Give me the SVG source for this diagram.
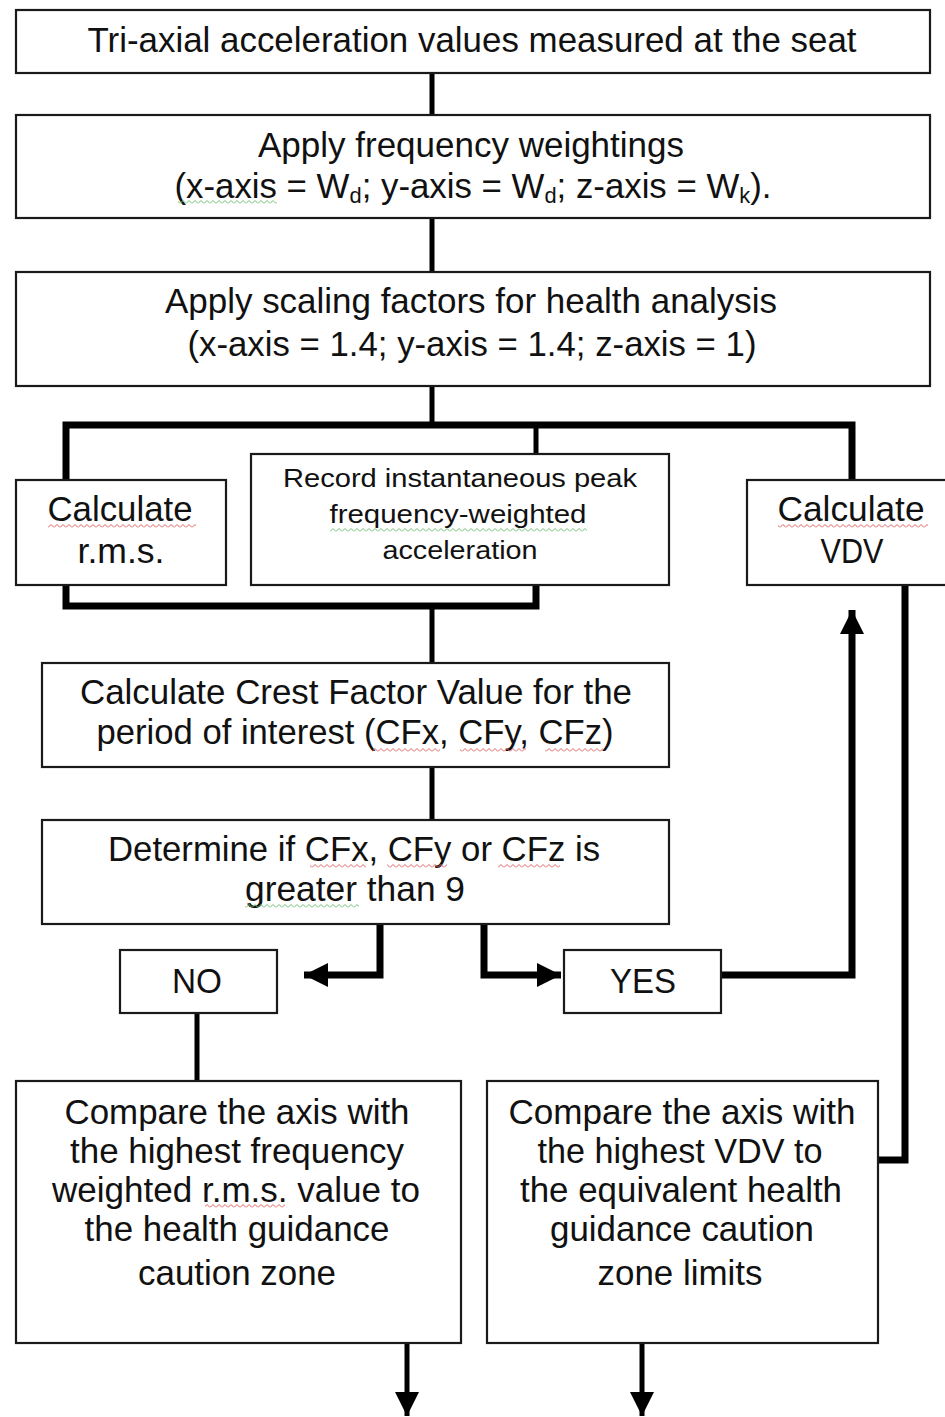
<svg xmlns="http://www.w3.org/2000/svg" width="945" height="1417" viewBox="0 0 945 1417">
<style>
.box{fill:#fff;stroke:#1a1a1a;stroke-width:2.2}
.t{font-family:"Liberation Sans",Arial,sans-serif;font-size:35px;fill:#111;text-anchor:middle}
.s{font-family:"Liberation Sans",Arial,sans-serif;font-size:25px;fill:#111;text-anchor:middle}
.c{fill:none;stroke:#000;stroke-width:5}
.b{fill:none;stroke:#000;stroke-width:7}
</style>
<defs>
<marker id="arr" viewBox="0 0 24 24" refX="24" refY="12" markerWidth="24" markerHeight="24" markerUnits="userSpaceOnUse" orient="auto">
<path d="M0,0 L24,12 L0,24 z" fill="#000"/>
</marker>
<pattern id="wr" width="6" height="4" patternUnits="userSpaceOnUse">
<polyline points="0,3.5 3,0.5 6,3.5" fill="none" stroke="#e06060" stroke-width="1"/>
</pattern>
<pattern id="wg" width="6" height="4" patternUnits="userSpaceOnUse">
<polyline points="0,3.5 3,0.5 6,3.5" fill="none" stroke="#70c070" stroke-width="1"/>
</pattern>
</defs>
<rect width="945" height="1417" fill="#fff"/>

<g id="connectors">
<line class="c" x1="432" y1="73" x2="432" y2="115"/>
<line class="c" x1="432" y1="218" x2="432" y2="272"/>
<line class="c" x1="432" y1="386" x2="432" y2="425"/>
<path class="b" d="M66,480 V425 H852 V480"/>
<line class="c" x1="536" y1="425" x2="536" y2="454"/>
<path class="b" d="M66,585 V606 H536 V585"/>
<line class="c" x1="432" y1="606" x2="432" y2="663"/>
<line class="c" x1="432" y1="767" x2="432" y2="820"/>
<path class="b" d="M380,924 V975 H304" marker-end="url(#arr)"/>
<path class="b" d="M484,924 V975 H561" marker-end="url(#arr)"/>
<path class="b" d="M721,975 H852 V610" marker-end="url(#arr)"/>
<path class="b" d="M905,585 V1160 H879"/>
<line class="c" x1="197" y1="1013" x2="197" y2="1081"/>
<path class="c" d="M407,1343 V1416" marker-end="url(#arr)"/>
<path class="c" d="M642,1343 V1416" marker-end="url(#arr)"/>
</g>

<g id="n1">
<rect class="box" x="16" y="10" width="914" height="63"/>
<text class="t" x="472" y="52" textLength="769" lengthAdjust="spacingAndGlyphs">Tri-axial acceleration values measured at the seat</text>
</g>

<g id="n2">
<rect class="box" x="16" y="115" width="914" height="103"/>
<text class="t" x="471" y="157" textLength="426" lengthAdjust="spacingAndGlyphs">Apply frequency weightings</text>
<text class="t" x="473" y="198" textLength="597" lengthAdjust="spacingAndGlyphs">(x-axis = W<tspan font-size="22" dy="5">d</tspan><tspan dy="-5">; y-axis = W</tspan><tspan font-size="22" dy="5">d</tspan><tspan dy="-5">; z-axis = W</tspan><tspan font-size="22" dy="5">k</tspan><tspan dy="-5">).</tspan></text>
<rect x="178" y="200" width="99" height="4" fill="url(#wg)"/>
</g>

<g id="n3">
<rect class="box" x="16" y="272" width="914" height="114"/>
<text class="t" x="471" y="313" textLength="612" lengthAdjust="spacingAndGlyphs">Apply scaling factors for health analysis</text>
<text class="t" x="472" y="356" textLength="569" lengthAdjust="spacingAndGlyphs">(x-axis = 1.4; y-axis = 1.4; z-axis = 1)</text>
</g>

<g id="n4">
<rect class="box" x="16" y="480" width="210" height="105"/>
<text class="t" x="120" y="521" textLength="145" lengthAdjust="spacingAndGlyphs">Calculate</text>
<text class="t" x="121" y="563" textLength="87" lengthAdjust="spacingAndGlyphs">r.m.s.</text>
<rect x="48" y="524" width="148" height="4" fill="url(#wr)"/>
</g>

<g id="n5">
<rect class="box" x="251" y="454" width="418" height="131"/>
<text class="s" x="460" y="487" textLength="354" lengthAdjust="spacingAndGlyphs">Record instantaneous peak</text>
<text class="s" x="458" y="523" textLength="257" lengthAdjust="spacingAndGlyphs">frequency-weighted</text>
<text class="s" x="460" y="559" textLength="155" lengthAdjust="spacingAndGlyphs">acceleration</text>
<rect x="330" y="528" width="257" height="4" fill="url(#wg)"/>
</g>

<g id="n6">
<rect class="box" x="747" y="480" width="210" height="105"/>
<text class="t" x="851" y="521" textLength="147" lengthAdjust="spacingAndGlyphs">Calculate</text>
<text class="t" x="852" y="563" textLength="63" lengthAdjust="spacingAndGlyphs">VDV</text>
<rect x="778" y="524" width="150" height="4" fill="url(#wr)"/>
</g>

<g id="n7">
<rect class="box" x="42" y="663" width="627" height="104"/>
<text class="t" x="356" y="704" textLength="552" lengthAdjust="spacingAndGlyphs">Calculate Crest Factor Value for the</text>
<text class="t" x="355" y="744" textLength="517" lengthAdjust="spacingAndGlyphs">period of interest (CFx, CFy, CFz)</text>
<rect x="372" y="748" width="68" height="4" fill="url(#wr)"/>
<rect x="460" y="748" width="66" height="4" fill="url(#wr)"/>
<rect x="545" y="748" width="58" height="4" fill="url(#wr)"/>
</g>

<g id="n8">
<rect class="box" x="42" y="820" width="627" height="104"/>
<text class="t" x="354" y="861" textLength="492" lengthAdjust="spacingAndGlyphs">Determine if CFx, CFy or CFz is</text>
<text class="t" x="355" y="901" textLength="220" lengthAdjust="spacingAndGlyphs">greater than 9</text>
<rect x="310" y="864" width="56" height="4" fill="url(#wr)"/>
<rect x="387" y="864" width="60" height="4" fill="url(#wr)"/>
<rect x="498" y="864" width="62" height="4" fill="url(#wr)"/>
<rect x="245" y="904" width="114" height="4" fill="url(#wg)"/>
</g>

<g id="n9">
<rect class="box" x="120" y="950" width="157" height="63"/>
<text class="t" x="197" y="993" textLength="50" lengthAdjust="spacingAndGlyphs">NO</text>
</g>

<g id="n10">
<rect class="box" x="564" y="950" width="157" height="63"/>
<text class="t" x="643" y="993" textLength="66" lengthAdjust="spacingAndGlyphs">YES</text>
</g>

<g id="n11">
<rect class="box" x="16" y="1081" width="445" height="262"/>
<text class="t" x="237" y="1124" textLength="345" lengthAdjust="spacingAndGlyphs">Compare the axis with</text>
<text class="t" x="237" y="1163" textLength="334" lengthAdjust="spacingAndGlyphs">the highest frequency</text>
<text class="t" x="236" y="1202" textLength="368" lengthAdjust="spacingAndGlyphs">weighted r.m.s. value to</text>
<text class="t" x="237" y="1241" textLength="305" lengthAdjust="spacingAndGlyphs">the health guidance</text>
<text class="t" x="237" y="1285" textLength="198" lengthAdjust="spacingAndGlyphs">caution zone</text>
<rect x="205" y="1204" width="80" height="4" fill="url(#wr)"/>
</g>

<g id="n12">
<rect class="box" x="487" y="1081" width="391" height="262"/>
<text class="t" x="682" y="1124" textLength="347" lengthAdjust="spacingAndGlyphs">Compare the axis with</text>
<text class="t" x="680" y="1163" textLength="285" lengthAdjust="spacingAndGlyphs">the highest VDV to</text>
<text class="t" x="681" y="1202" textLength="322" lengthAdjust="spacingAndGlyphs">the equivalent health</text>
<text class="t" x="682" y="1241" textLength="264" lengthAdjust="spacingAndGlyphs">guidance caution</text>
<text class="t" x="680" y="1285" textLength="165" lengthAdjust="spacingAndGlyphs">zone limits</text>
</g>
</svg>
